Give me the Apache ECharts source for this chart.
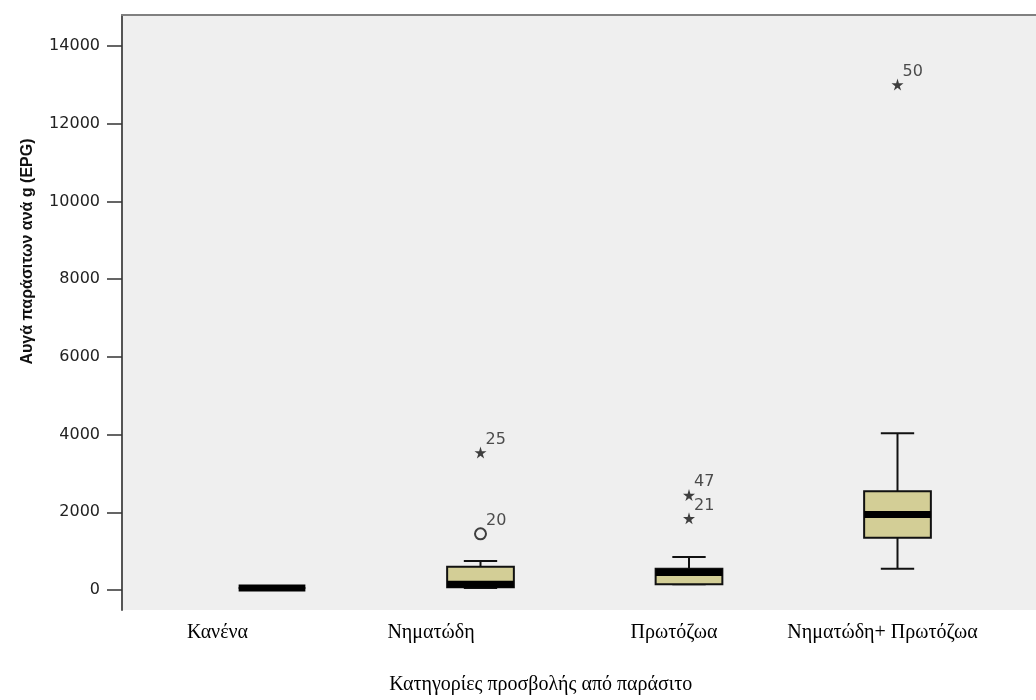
<!DOCTYPE html>
<html>
<head>
<meta charset="utf-8">
<script src="https://cdn.jsdelivr.net/npm/echarts@6/dist/echarts.min.js"></script>
<style>
  html, body { margin: 0; padding: 0; background: #ffffff; }
  #chart { width: 1036px; height: 700px; }
</style>
</head>
<body>
<div id="chart"></div>
<script>
// Parasite infection categories
const categories = ['Κανένα', 'Νηματώδη', 'Πρωτόζωα', 'Νηματώδη+ Πρωτόζωα'];

// Box statistics per category (EPG)
const whiskerLow  = [0, 0, 100, 500];
const quartile1   = [0, 20, 100, 1300];
const medians     = [0, 100, 400, 1900];
const quartile3   = [0, 550, 500, 2500];
const whiskerHigh = [0, 700, 800, 4000];

// Outliers: [category index, EPG, case number]
const outlierPoints = [[1, 1400, '20']];
// Extreme values: [category index, EPG, case number]
const extremePoints = [[1, 3500, '25'], [2, 2400, '47'], [2, 1800, '21'], [3, 13000, '50']];

const yTicks = [0, 2000, 4000, 6000, 8000, 10000, 12000, 14000];

const yTitle = 'Αυγά παράσιτων ανά g (EPG)';
const xTitle = 'Κατηγορίες προσβολής από παράσιτο';

const boxData = categories.map((c, i) =>
  [i, whiskerLow[i], quartile1[i], medians[i], quartile3[i], whiskerHigh[i]]);

const Y_MIN = -514.7;
const Y_MAX = 14797.8;

const STAR = 'path://M50,0 L61,35 L98,35 L68,57 L79,91 L50,70 L21,91 L32,57 L2,35 L39,35 Z';
const tickFont = { fontFamily: 'DejaVu Sans', fontSize: 16, color: '#222' };
const serif = 'Liberation Serif';

const chart = echarts.init(document.getElementById('chart'), null, { renderer: 'canvas' });

function renderBox(params, api) {
  const x = api.value(0);
  const pLow = api.coord([x, api.value(1)]);
  const pQ1 = api.coord([x, api.value(2)]);
  const pMed = api.coord([x, api.value(3)]);
  const pQ3 = api.coord([x, api.value(4)]);
  const pHigh = api.coord([x, api.value(5)]);
  const band = api.size([1, 0])[0];
  const bw = band * 0.32;
  const cap = bw / 4;
  const cx = pMed[0];
  const line = { stroke: '#111', lineWidth: 2 };
  return {
    type: 'group',
    children: [
      { type: 'line', shape: { x1: cx, y1: pQ1[1], x2: cx, y2: pLow[1] }, style: line },
      { type: 'line', shape: { x1: cx, y1: pQ3[1], x2: cx, y2: pHigh[1] }, style: line },
      { type: 'line', shape: { x1: cx - cap, y1: pLow[1], x2: cx + cap, y2: pLow[1] }, style: line },
      { type: 'line', shape: { x1: cx - cap, y1: pHigh[1], x2: cx + cap, y2: pHigh[1] }, style: line },
      { type: 'rect', shape: { x: cx - bw / 2, y: pQ3[1], width: bw, height: pQ1[1] - pQ3[1] },
        style: { fill: '#d3ce96', stroke: '#111', lineWidth: 2 } },
      { type: 'rect', shape: { x: cx - bw / 2, y: pMed[1] - 3.5, width: bw, height: 7 },
        style: { fill: '#000' } }
    ]
  };
}

const caseLabel = {
  show: true,
  position: 'right',
  distance: 0,
  offset: [-1, -13],
  formatter: p => p.value[2],
  fontFamily: 'DejaVu Sans',
  fontSize: 16,
  color: '#222'
};

const richLabels = {};
[109, 99, 30, 30].forEach((pad, i) => {
  richLabels['c' + i] = { fontFamily: serif, fontSize: 20, color: '#000', padding: [0, pad, 0, 0] };
});

chart.setOption({
  animation: false,
  backgroundColor: '#ffffff',
  grid: [
    { left: 122, right: 0, top: 15, bottom: 90, show: true, backgroundColor: '#efefef', borderWidth: 0 },
    { left: 167.75, right: 34.25, top: 15, bottom: 90 }
  ],
  xAxis: [
    {
      gridIndex: 0, type: 'value', position: 'top', min: 0, max: 1,
      axisLine: { show: true, onZero: false, lineStyle: { color: '#808080', width: 2 } },
      axisTick: { show: false }, axisLabel: { show: false }, splitLine: { show: false }
    },
    {
      gridIndex: 1, type: 'category', data: categories, boundaryGap: true,
      axisLine: { show: false, onZero: false }, axisTick: { show: false }, splitLine: { show: false },
      axisLabel: {
        interval: 0, margin: 15,
        formatter: (v, i) => '{c' + i + '|' + v + '}',
        rich: richLabels
      },
      name: xTitle, nameLocation: 'middle', nameGap: 67,
      nameTextStyle: { fontFamily: serif, fontSize: 20, color: '#000', padding: [0, 88, 0, 0] }
    }
  ],
  yAxis: [
    {
      gridIndex: 0, type: 'value', min: Y_MIN, max: Y_MAX,
      axisLine: { show: true, onZero: false, lineStyle: { color: '#555', width: 2 } },
      axisTick: { show: true, length: 15, customValues: yTicks, lineStyle: { color: '#333', width: 1.5 } },
      axisLabel: Object.assign({ customValues: yTicks, margin: 22, formatter: v => String(v) }, tickFont),
      splitLine: { show: false },
      name: yTitle, nameLocation: 'middle', nameGap: 86,
      nameTextStyle: {
        fontFamily: 'Liberation Sans', fontWeight: 'bold', fontSize: 16, color: '#111',
        padding: [0, 0, 0, 122]
      }
    },
    { gridIndex: 1, type: 'value', min: Y_MIN, max: Y_MAX, show: false, splitLine: { show: false } }
  ],
  series: [
    {
      type: 'custom', xAxisIndex: 1, yAxisIndex: 1,
      renderItem: renderBox,
      encode: { x: 0, y: [1, 2, 3, 4, 5] },
      data: boxData
    },
    {
      type: 'scatter', xAxisIndex: 1, yAxisIndex: 1,
      symbol: 'circle', symbolSize: 11,
      itemStyle: { color: 'rgba(0,0,0,0)', borderColor: '#111', borderWidth: 2 },
      label: caseLabel,
      data: outlierPoints
    },
    {
      type: 'scatter', xAxisIndex: 1, yAxisIndex: 1,
      symbol: STAR, symbolSize: 12,
      itemStyle: { color: '#111' },
      label: caseLabel,
      data: extremePoints
    }
  ]
});
</script>
</body>
</html>
